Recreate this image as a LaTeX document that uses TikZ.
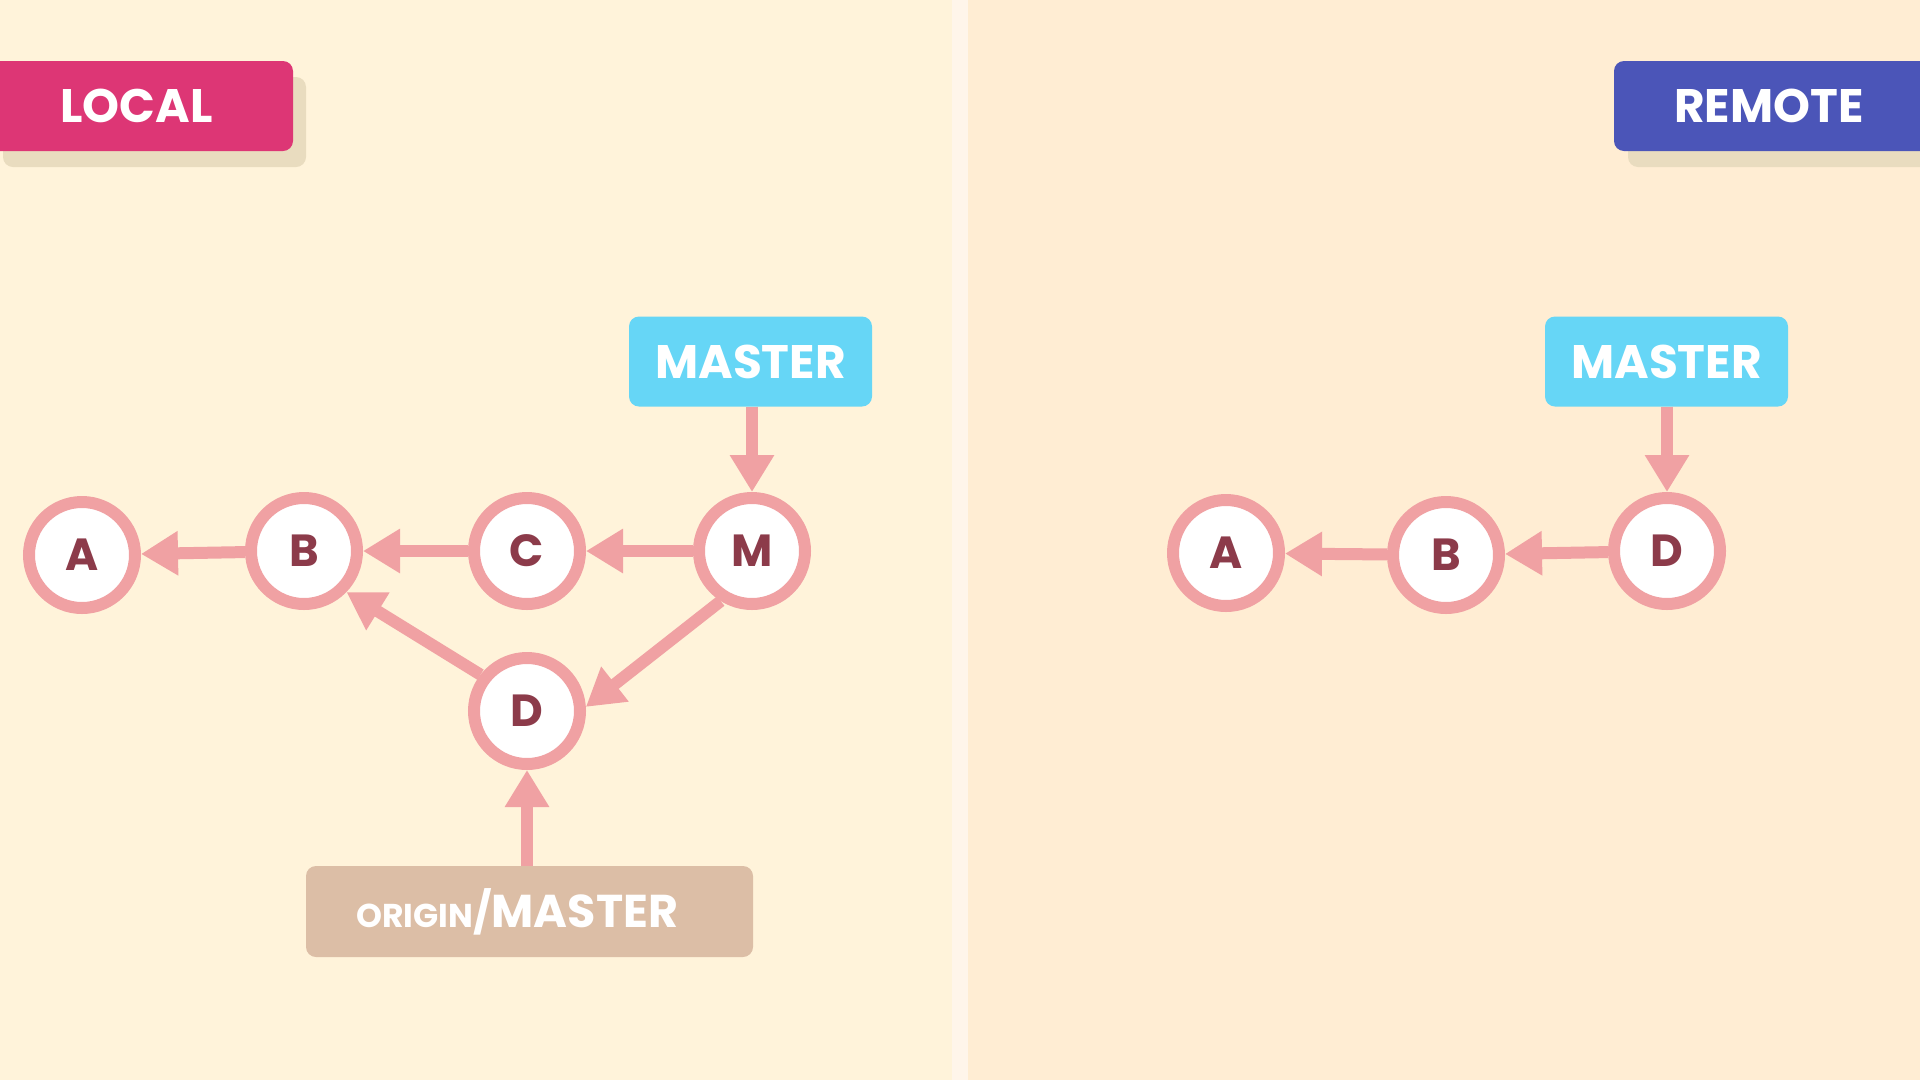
\documentclass[tikz,border=0pt]{standalone}
\usepackage{fontspec}
\setmainfont{Poppins}
\usetikzlibrary{arrows.meta}
\definecolor{bgleft}{HTML}{FFF3DA}
\definecolor{bgright}{HTML}{FFEDD3}
\definecolor{divider}{HTML}{FFF5EA}
\definecolor{localpink}{HTML}{DD3675}
\definecolor{remoteblue}{HTML}{4B55B8}
\definecolor{mastercyan}{HTML}{66D6F6}
\definecolor{originbox}{HTML}{DCBEA6}
\definecolor{ring}{HTML}{F0A1A3}
\definecolor{letter}{HTML}{8C3B4A}
\definecolor{shadow}{HTML}{E9DCBF}
\tikzset{
  commit/.style={circle, draw=ring, line width=12pt, fill=white, minimum size=106pt, inner sep=0pt,
    text=letter, font=\fontsize{45}{45}\selectfont\bfseries},
  box/.style={rounded corners=10pt, inner sep=0pt, text=white, font=\fontsize{47}{47}\selectfont\bfseries},
  link/.style={draw=ring, line width=12pt, -{Triangle[width=42pt,length=37pt]}, shorten >=0pt}
}
\begin{document}
\begin{tikzpicture}[x=1pt,y=-1pt]
\useasboundingbox (0,0) rectangle (1920,1080);
\fill[bgleft] (0,0) rectangle (960,1080);
\fill[bgright] (960,0) rectangle (1920,1080);
\fill[divider] (952,0) rectangle (968,1080);

% header boxes
\node[box, fill=shadow, minimum width=303pt, minimum height=90pt] (localsh) at (154.5,122) {};
\node[box, fill=localpink, minimum width=303pt, minimum height=90pt] (local) at (141.5,106) {\hspace*{-10pt}LOCAL};
\node[box, fill=shadow, minimum width=316pt, minimum height=90pt] (remotesh) at (1786,122) {};
\node[box, fill=remoteblue, minimum width=316pt, minimum height=90pt] (remote) at (1772,106) {\hspace*{-6pt}REMOTE};

% local graph
\node[box, fill=mastercyan, minimum width=243pt, minimum height=90pt] (lmaster) at (750.5,361.5) {MASTER};
\node[commit] (la) at (82,555) {A};
\node[commit] (lb) at (304,551) {B};
\node[commit] (lc) at (527,551) {C};
\node[commit] (lm) at (752,551) {M};
\node[commit] (ld) at (527,711) {D};
\node[rounded corners=10pt, fill=originbox, minimum width=447pt, minimum height=91pt] (lorigin) at (529.5,911.5) {};
\node[anchor=base west, inner sep=0pt, text=white] (loriginlbl) at (356,927)
  {{\fontsize{33}{33}\selectfont\bfseries ORIGIN}{\fontsize{41}{41}\selectfont\bfseries /}{\fontsize{46}{46}\selectfont\bfseries MASTER}};

\draw[link] (lb) -- (la);
\draw[link] (lc) -- (lb);
\draw[link] (lm) -- (lc);
\draw[link] (ld.142) -- (lb.-44);
\draw[link] (lm.-122) -- (ld.4);
\draw[link] (lmaster.south -| lm) -- (lm);
\draw[link] (lorigin.north -| ld) -- (ld);

% remote graph
\node[box, fill=mastercyan, minimum width=243pt, minimum height=90pt] (rmaster) at (1666.5,361.5) {MASTER};
\node[commit] (ra) at (1226,553) {A};
\node[commit] (rb) at (1446,555) {B};
\node[commit] (rd) at (1667,551) {D};
\draw[link] (rb) -- (ra);
\draw[link] (rd) -- (rb);
\draw[link] (rmaster.south -| rd) -- (rd);
\end{tikzpicture}
\end{document}
